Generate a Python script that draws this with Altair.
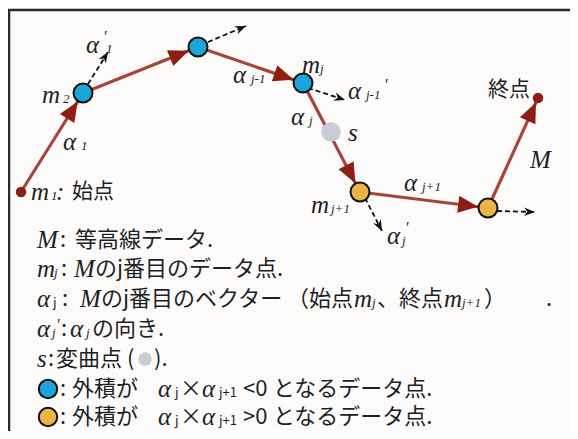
import math
import altair as alt
import pandas as pd

# ---- diagram nodes (image pixel coordinates) ----
node_name = ["m1", "m2", "m3", "mj", "mj+1", "m6", "end"]
node_x = [21, 83, 198, 303, 360, 488, 538]
node_y = [192, 93, 47, 83, 192, 208, 98]
node_kind = ["end", "blue", "blue", "blue", "gold", "gold", "end"]
node_r = {"end": 5, "blue": 10, "gold": 10}

s_x = [331]
s_y = [132]

# dashed direction arrows alpha'
dash_x0 = [88, 208, 308, 365, 497]
dash_y0 = [84, 42, 88, 198, 211]
dash_x1 = [108, 246, 345, 382, 535]
dash_y1 = [52, 26, 100, 231, 212]

# frame lines
frame_x0 = [8, 9]
frame_y0 = [10, 10]
frame_x1 = [570, 9]
frame_y1 = [10, 431]

# legend circles
legend_dot_x = [48, 48, 145]
legend_dot_y = [389, 417, 359]
legend_dot_kind = ["blue", "gold", "gray"]

# ---- text pieces: (text, x, y, style) ----
labels = [
    ("α", 86, 45, "it"), ("'", 103, 37, "prime"), ("1", 106, 49, "sub"),
    ("m", 42, 95, "it"), ("2", 63, 99, "sub"),
    ("α", 63, 142, "it"), ("1", 81, 146, "sub"),
    ("m", 31, 192, "it"), ("1", 51, 196, "sub"), (":", 56, 192, "it"),
    ("始点", 72, 192, "sans_d"),
    ("α", 233, 75, "it"), ("j-1", 251, 79, "sub"),
    ("m", 302, 65, "it"), ("j", 320, 69, "sub"),
    ("α", 348, 91, "it"), ("j-1", 366, 95, "sub"), ("'", 384, 85, "prime"),
    ("α", 291, 117, "it"), ("j", 309, 121, "sub"),
    ("s", 348, 133, "it"),
    ("m", 311, 205, "it"), ("j+1", 331, 209, "sub"),
    ("α", 404, 183, "it"), ("j+1", 422, 187, "sub"),
    ("α", 387, 236, "it"), ("j", 402, 241, "sub"), ("'", 405, 228, "prime"),
    ("終点", 488, 90, "sans_d"),
    ("M", 530, 160, "it"),
]

legend = [
    ("M", 37, 240, "it"), (":", 60, 240, "sans"), ("等高線データ.", 75, 240, "sans"),
    ("m", 37, 269, "it"), ("j", 54, 273, "sub"), (":", 61, 269, "sans"),
    ("M", 74, 269, "it"), ("のj番目のデータ点.", 95, 269, "sans"),
    ("α", 37, 299, "it"), ("j", 53, 303, "sans_sub"), (":", 62, 299, "sans"),
    ("M", 80, 299, "it"), ("のj番目のベクター", 101, 299, "sans"),
    ("（始点", 287, 299, "sans"), ("m", 354, 299, "it"), ("j", 372, 303, "sub"),
    ("、終点", 377, 299, "sans"), ("m", 444, 299, "it"), ("j+1", 462, 303, "sub"),
    ("）", 484, 299, "sans"), (".", 546, 299, "sans"),
    ("α", 37, 329, "it"), ("j", 52, 333, "sub"), ("'", 56, 325, "prime"),
    (":", 61, 329, "sans"), ("α", 70, 329, "it"), ("j", 86, 333, "sub"),
    ("の向き.", 92, 329, "sans"),
    ("s", 37, 359, "it"), (":", 48, 359, "sans"), ("変曲点 (", 56, 359, "sans"),
    (").", 154, 359, "sans"),
    (":", 60, 389, "sans"), ("外積が", 72, 389, "sans"), ("α", 158, 389, "it"),
    ("j", 175, 393, "sans_sub"), ("×", 180, 389, "sans"), ("α", 202, 389, "it"),
    ("j+1", 219, 393, "sans_sub"), ("<0", 243, 389, "sans"),
    ("となるデータ点.", 273, 389, "sans"),
    (":", 60, 417, "sans"), ("外積が", 72, 417, "sans"), ("α", 158, 417, "it"),
    ("j", 175, 421, "sans_sub"), ("×", 180, 417, "sans"), ("α", 202, 417, "it"),
    ("j+1", 219, 421, "sans_sub"), (">0", 243, 417, "sans"),
    ("となるデータ点.", 273, 417, "sans"),
]

# ---- build tables ----
W, H = 562, 423
xs = alt.Scale(domain=[8, 8 + W])
ys = alt.Scale(domain=[8, 8 + H], reverse=True)
X = lambda f: alt.X(f, type="quantitative", scale=xs, axis=None)
Y = lambda f: alt.Y(f, type="quantitative", scale=ys, axis=None)

nodes = pd.DataFrame({"name": node_name, "x": node_x, "y": node_y, "kind": node_kind})

seg_rows = []
head_rows = []
for i in range(len(node_x) - 1):
    x0, y0, x1, y1 = node_x[i], node_y[i], node_x[i + 1], node_y[i + 1]
    seg_rows.append({"x": x0, "y": y0, "x2": x1, "y2": y1})
    dx, dy = x1 - x0, y1 - y0
    L = math.hypot(dx, dy)
    r = node_r[node_kind[i + 1]]
    tx, ty = x1 - dx / L * r, y1 - dy / L * r
    ang = math.degrees(math.atan2(dx, -dy)) % 360
    head_rows.append({"x": tx, "y": ty, "ang": ang})
segs = pd.DataFrame(seg_rows)
heads = pd.DataFrame(head_rows)

dash = pd.DataFrame({"x": dash_x0, "y": dash_y0, "x2": dash_x1, "y2": dash_y1})
dash["ang"] = [
    math.degrees(math.atan2(b - a, -(d - c))) % 360
    for a, b, c, d in zip(dash_x0, dash_x1, dash_y0, dash_y1)
]

frame = pd.DataFrame({"x": frame_x0, "y": frame_y0, "x2": frame_x1, "y2": frame_y1})

txt = pd.DataFrame(labels + legend, columns=["text", "x", "y", "style"])

dots = pd.DataFrame({"x": legend_dot_x, "y": legend_dot_y, "kind": legend_dot_kind})

LINE = "#a5463a"
HEAD = "#8e1d15"
BLUE = "#19a7d9"
GOLD = "#e9b546"
GRAY = "#c9cdd3"
TXT = "#1d1f26"

layers = []

layers.append(
    alt.Chart(frame).mark_rule(color="#2a2a2a", strokeWidth=2.5).encode(
        x=X("x"), y=Y("y"), x2="x2", y2="y2")
)

layers.append(
    alt.Chart(segs).mark_rule(color=LINE, strokeWidth=3.2).encode(
        x=X("x"), y=Y("y"), x2="x2", y2="y2")
)

layers.append(
    alt.Chart(dash).mark_rule(color="#111111", strokeWidth=1.8, strokeDash=[5, 3]).encode(
        x=X("x"), y=Y("y"), x2="x2", y2="y2")
)
layers.append(
    alt.Chart(dash).mark_point(
        shape="M0,0L-0.9,2.3L0,1.6L0.9,2.3Z", filled=True, color="#111111",
        opacity=1, size=90).encode(
        x=X("x2"), y=Y("y2"), angle=alt.Angle("ang:Q", scale=None))
)

layers.append(
    alt.Chart(heads).mark_point(
        shape="M0,0L-0.85,2L0.85,2Z", filled=True, color=HEAD, opacity=1,
        size=400).encode(
        x=X("x"), y=Y("y"), angle=alt.Angle("ang:Q", scale=None))
)

# gray inflection point
layers.append(
    alt.Chart(pd.DataFrame({"x": s_x, "y": s_y})).mark_point(
        shape="circle", filled=True, color=GRAY, opacity=1, size=380).encode(
        x=X("x"), y=Y("y"))
)

color_scale = alt.Scale(domain=["blue", "gold", "gray", "end"],
                        range=[BLUE, GOLD, GRAY, HEAD])

layers.append(
    alt.Chart(nodes[nodes.kind != "end"]).mark_point(
        shape="circle", filled=True, opacity=1, size=360, stroke="#111111",
        strokeWidth=2).encode(
        x=X("x"), y=Y("y"),
        fill=alt.Fill("kind:N", scale=color_scale, legend=None))
)
layers.append(
    alt.Chart(nodes[nodes.kind == "end"]).mark_point(
        shape="circle", filled=True, opacity=1, size=110, color=HEAD).encode(
        x=X("x"), y=Y("y"))
)

layers.append(
    alt.Chart(dots[dots.kind != "gray"]).mark_point(
        shape="circle", filled=True, opacity=1, size=340, stroke="#111111",
        strokeWidth=2).encode(
        x=X("x"), y=Y("y"),
        fill=alt.Fill("kind:N", scale=color_scale, legend=None))
)
layers.append(
    alt.Chart(dots[dots.kind == "gray"]).mark_point(
        shape="circle", filled=True, opacity=1, size=180, color=GRAY).encode(
        x=X("x"), y=Y("y"))
)

styles = {
    "it": dict(font="Liberation Serif", fontSize=25, fontStyle="italic"),
    "prime": dict(font="Liberation Serif", fontSize=16, fontStyle="italic"),
    "sub": dict(font="Liberation Serif", fontSize=13, fontStyle="italic"),
    "sans": dict(font="Noto Sans CJK JP", fontSize=22),
    "sans_d": dict(font="Noto Sans CJK JP", fontSize=21),
    "sans_sub": dict(font="Noto Sans CJK JP", fontSize=13),
}
for st, kw in styles.items():
    d = txt[txt["style"] == st]
    layers.append(
        alt.Chart(d).mark_text(align="left", baseline="middle", color=TXT, **kw).encode(
            x=X("x"), y=Y("y"), text="text:N")
    )

chart = alt.layer(*layers).properties(
    width=W, height=H, padding=0, autosize="none", background="#fdfbf9"
).configure_view(strokeWidth=0)

chart.save("out.html", embed_options={"renderer": "svg", "actions": False})
